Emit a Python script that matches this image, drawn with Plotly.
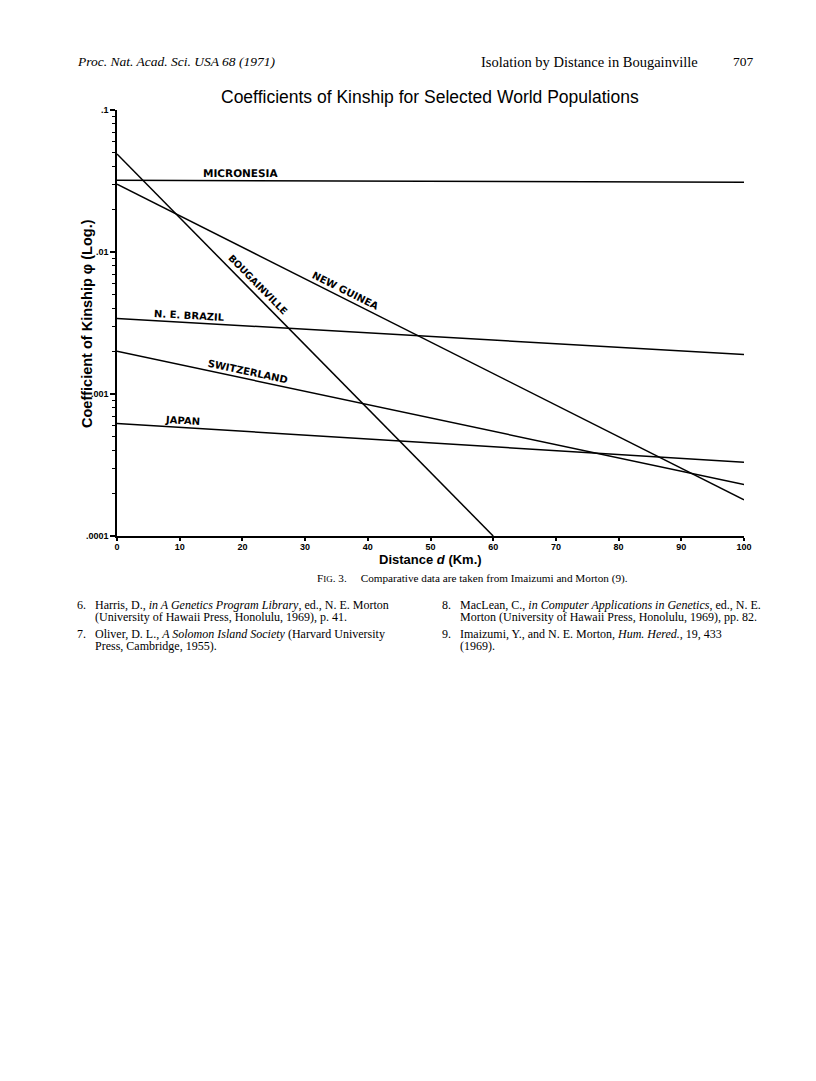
import plotly.graph_objects as go
import math

# ---- data ----
populations = ["MICRONESIA", "BOUGAINVILLE", "NEW GUINEA", "N. E. BRAZIL", "SWITZERLAND", "JAPAN"]
dist_start = [0, 0, 0, 0, 0, 0]
dist_end = [100, 60, 100, 100, 100, 100]
phi_start = [0.032, 0.049, 0.030, 0.0034, 0.0020, 0.00062]
phi_end = [0.031, 0.0001, 0.00018, 0.0019, 0.00023, 0.00033]
label_dist = [19.7, 21.5, 35.9, 11.6, 20.7, 10.4]

x_ticks = [0, 10, 20, 30, 40, 50, 60, 70, 80, 90, 100]
y_ticks = [0.0001, 0.001, 0.01, 0.1]
y_ticklabels = [".0001", ".001", ".01", ".1"]

W, H = 816, 1081
OFF = 8  # page body margin
FW, FH = W - 2 * OFF, H - 2 * OFF
L, R, T, B = 117, 744, 110, 536  # plot area in page pixels

fig = go.Figure()
for i, name in enumerate(populations):
    fig.add_trace(go.Scatter(
        x=[dist_start[i], dist_end[i]], y=[phi_start[i], phi_end[i]],
        mode="lines", line=dict(color="black", width=1.5),
        name=name, showlegend=False, hoverinfo="skip", cliponaxis=False))

def phi_at(i, d):
    a, b = math.log10(phi_start[i]), math.log10(phi_end[i])
    return a + (b - a) * (d - dist_start[i]) / (dist_end[i] - dist_start[i])

label_sizes = [10.5, 9.5, 10, 10, 10, 10]
label_shift = [(0, 8), (6, 6), (3, 7), (0, 7), (1, 7), (0, 7)]
xscale = (R - L) / 100.0
yscale = (B - T) / 3.0
for i, name in enumerate(populations):
    d = label_dist[i]
    slope_pix = -(math.log10(phi_end[i]) - math.log10(phi_start[i])) / (dist_end[i] - dist_start[i]) * yscale / xscale
    ang = math.degrees(math.atan(slope_pix))
    fig.add_annotation(
        x=d, y=phi_at(i, d), xref="x", yref="y",
        text="<b>" + name + "</b>", showarrow=False, textangle=ang,
        font=dict(family="DejaVu Sans, Arial", size=label_sizes[i], color="black"),
        xshift=label_shift[i][0], yshift=label_shift[i][1])

def px(xp):
    return (xp - L) / (R - L)

def py(yp):
    return (B - yp) / (B - T)

def txt(x, y, text, size, family, xanchor="left", yanchor="middle", angle=0):
    fig.add_annotation(x=px(x), y=py(y), xref="paper", yref="paper", text=text,
                       showarrow=False, xanchor=xanchor, yanchor=yanchor, textangle=angle,
                       font=dict(family=family, size=size, color="black"))

serif = "Liberation Serif, Times New Roman, serif"
sans = "Liberation Sans, Arial, sans-serif"

# header
txt(75, 62, "<i>Proc. Nat. Acad. Sci. USA 68 (1971)</i>", 13.5, serif)
txt(700, 62, "Isolation by Distance in Bougainville", 14.5, serif, xanchor="right")
txt(756, 61, "707", 13.5, serif, xanchor="right")

# title
txt(430, 97, "Coefficients of Kinship for Selected World Populations", 17.5, sans, xanchor="center")

# axis titles
txt(87, 324, "<b>Coefficient of Kinship \u03c6 (Log.)</b>", 14.5, sans, xanchor="center", angle=-90)
txt(430, 559, "<b>Distance <i>d</i> (Km.)</b>", 13, sans, xanchor="center")

# caption
txt(472, 578, "F<span style='font-size:9px'>IG</span>. 3.\u2003 Comparative data are taken from Imaizumi and Morton (9).",
    11.2, serif, xanchor="center")

# references
refs = [
    (75, 93, 605, "6.", "Harris, D., <i>in A Genetics Program Library</i>, ed., N. E. Morton"),
    (75, 93, 617, "", "(University of Hawaii Press, Honolulu, 1969), p. 41."),
    (75, 93, 634, "7.", "Oliver, D. L., <i>A Solomon Island Society</i> (Harvard University"),
    (75, 93, 646, "", "Press, Cambridge, 1955)."),
    (440, 458, 605, "8.", "MacLean, C., <i>in Computer Applications in Genetics</i>, ed., N. E."),
    (440, 458, 617, "", "Morton (University of Hawaii Press, Honolulu, 1969), pp. 82."),
    (440, 458, 634, "9.", "Imaizumi, Y., and N. E. Morton, <i>Hum. Hered.</i>, 19, 433"),
    (440, 458, 646, "", "(1969)."),
]
for xn, xt, y, num, t in refs:
    if num:
        txt(xn, y, num, 12, serif)
    txt(xt, y, t, 12, serif)

minor_vals = []
for e in [-4, -3, -2]:
    for m in range(2, 10):
        minor_vals.append(m * 10 ** e)

tickfont = dict(family=sans, size=9, color="black", weight="bold")

fig.update_layout(
    width=FW, height=FH, autosize=False,
    margin=dict(l=L - OFF, r=FW - (R - OFF), t=T - OFF, b=FH - (B - OFF), pad=0),
    paper_bgcolor="white", plot_bgcolor="white",
    xaxis=dict(range=[0, 100], tickvals=x_ticks, ticktext=[str(v) for v in x_ticks],
               showgrid=False, zeroline=False, showline=True, linecolor="black", linewidth=1.5,
               ticks="outside", ticklen=3, tickwidth=1.5, tickcolor="black",
               ticklabelstandoff=-2,
               tickfont=tickfont, fixedrange=True),
    yaxis=dict(type="log", range=[-4, -1], tickvals=y_ticks, ticktext=y_ticklabels,
               showgrid=False, zeroline=False, showline=True, linecolor="black", linewidth=1.5,
               ticks="outside", ticklen=5, tickwidth=1.5, tickcolor="black",
               tickfont=tickfont,
               minor=dict(tickvals=minor_vals, ticks="outside", ticklen=3, tickcolor="black", tickwidth=1),
               fixedrange=True),
)

fig.write_html("out.html")
